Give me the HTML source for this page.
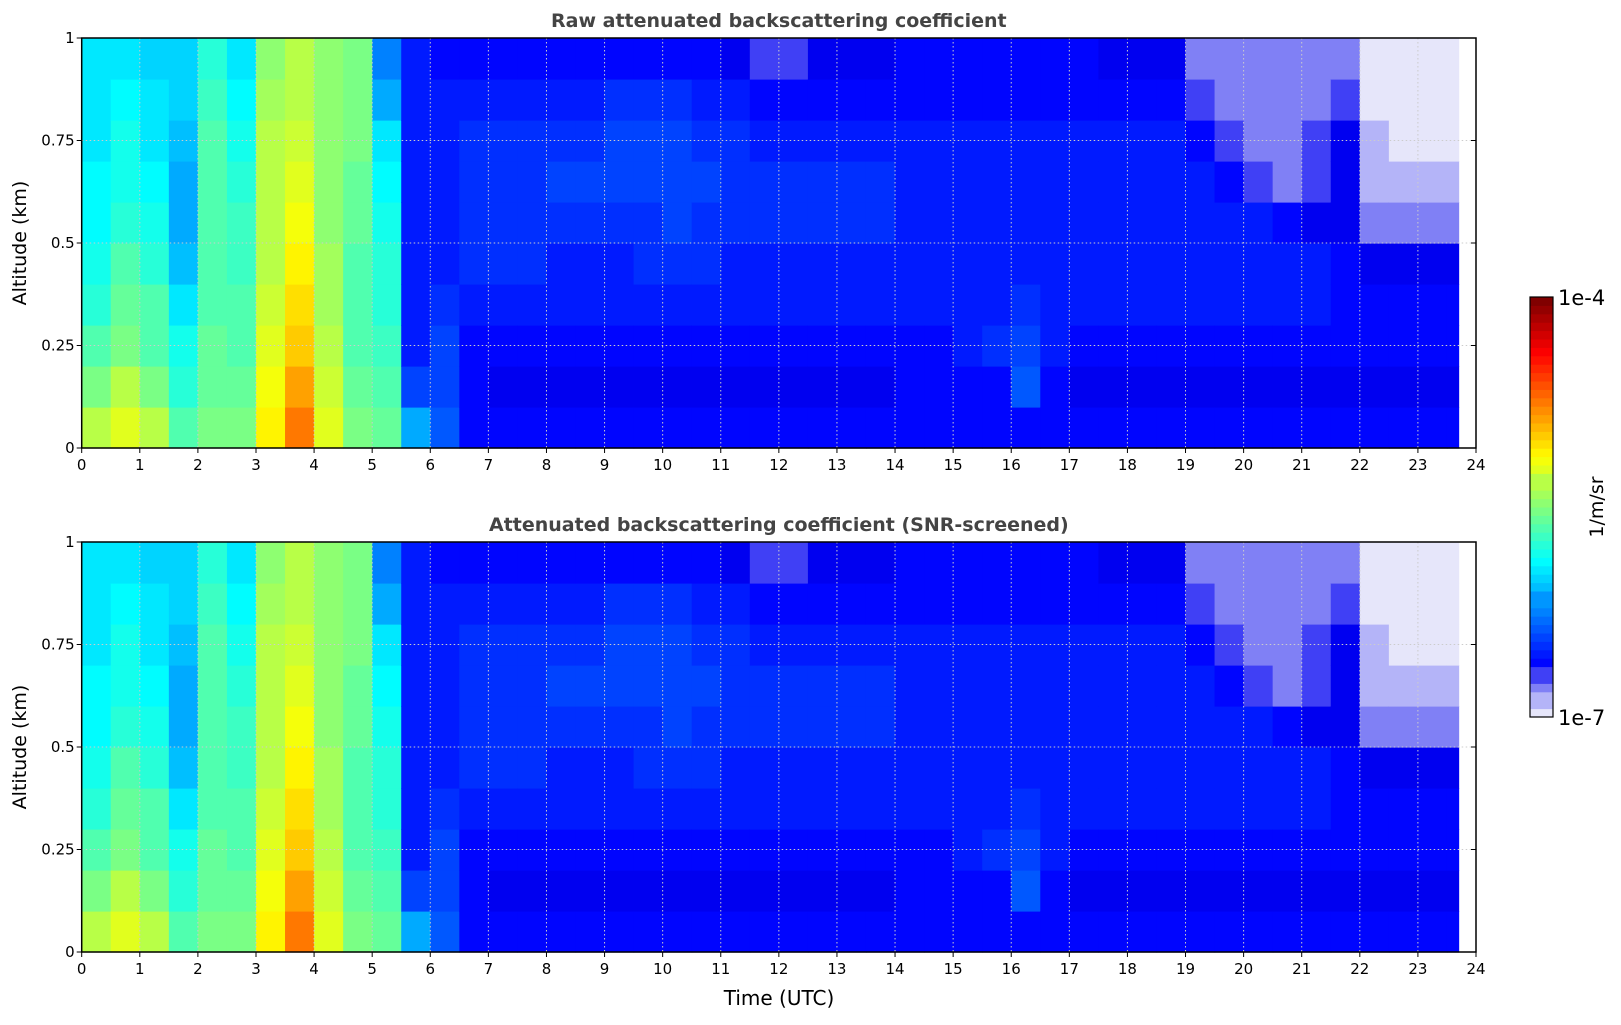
<!DOCTYPE html>
<html><head><meta charset="utf-8"><style>
body{margin:0;background:#fff;}
svg text{font-family:"DejaVu Sans","Liberation Sans",sans-serif;}
</style></head><body>
<svg id="fig" width="1621" height="1020" xmlns="http://www.w3.org/2000/svg">
</svg>
<script>
// Data: time bin edges (hours) and altitude bin edges (km)
const timeStarts = [0,0.5,1,1.5,2,2.5,3,3.5,4,4.5,5,5.5,6,6.5,7,7.5,8,8.5,9,9.5,10,10.5,11,11.5,12,12.5,13,13.5,14,14.5,15,15.5,16,16.5,17,17.5,18,18.5,19,19.5,20,20.5,21,21.5,22,22.5,23,23.5];
const timeEnd = 23.7;
const altStarts = [0,0.1,0.2,0.3,0.4,0.5,0.6,0.7,0.8,0.9];
// normalized log backscatter (0 = 1e-7, 1 = 1e-4), per column bottom->top
const colValues = [
[0.55,0.5,0.45,0.42,0.4,0.38,0.38,0.36,0.36,0.35],
[0.6,0.55,0.5,0.48,0.45,0.42,0.4,0.4,0.38,0.36],
[0.55,0.5,0.45,0.45,0.42,0.4,0.38,0.36,0.35,0.34],
[0.45,0.42,0.4,0.36,0.32,0.3,0.3,0.32,0.33,0.33],
[0.5,0.48,0.47,0.46,0.46,0.46,0.45,0.45,0.44,0.42],
[0.5,0.48,0.46,0.45,0.44,0.43,0.42,0.4,0.38,0.36],
[0.63,0.62,0.6,0.58,0.57,0.56,0.55,0.55,0.54,0.52],
[0.75,0.72,0.68,0.65,0.63,0.62,0.6,0.58,0.57,0.55],
[0.6,0.58,0.55,0.54,0.53,0.52,0.52,0.52,0.52,0.52],
[0.5,0.48,0.46,0.46,0.46,0.47,0.48,0.5,0.5,0.5],
[0.48,0.45,0.44,0.42,0.42,0.4,0.38,0.35,0.3,0.25],
[0.3,0.2,0.16,0.15,0.15,0.15,0.15,0.15,0.15,0.15],
[0.22,0.2,0.2,0.18,0.15,0.15,0.15,0.16,0.15,0.14],
[0.14,0.13,0.14,0.16,0.17,0.18,0.18,0.17,0.16,0.14],
[0.13,0.12,0.14,0.16,0.17,0.18,0.18,0.17,0.15,0.13],
[0.13,0.12,0.13,0.15,0.17,0.18,0.18,0.17,0.15,0.13],
[0.13,0.12,0.13,0.15,0.16,0.18,0.19,0.18,0.16,0.13],
[0.13,0.12,0.13,0.15,0.16,0.18,0.19,0.18,0.16,0.13],
[0.13,0.12,0.13,0.15,0.16,0.18,0.19,0.19,0.17,0.14],
[0.13,0.12,0.14,0.16,0.17,0.18,0.19,0.19,0.17,0.14],
[0.13,0.12,0.14,0.16,0.17,0.19,0.2,0.19,0.17,0.14],
[0.13,0.12,0.14,0.16,0.17,0.18,0.19,0.18,0.16,0.13],
[0.13,0.12,0.14,0.15,0.16,0.18,0.18,0.17,0.15,0.12],
[0.13,0.12,0.14,0.15,0.16,0.17,0.17,0.16,0.14,0.11],
[0.13,0.12,0.13,0.15,0.16,0.17,0.17,0.16,0.14,0.11],
[0.13,0.12,0.13,0.15,0.16,0.17,0.17,0.16,0.14,0.12],
[0.13,0.12,0.13,0.15,0.16,0.17,0.17,0.16,0.14,0.12],
[0.13,0.12,0.13,0.15,0.16,0.17,0.17,0.16,0.14,0.12],
[0.14,0.13,0.14,0.15,0.15,0.16,0.16,0.15,0.14,0.13],
[0.14,0.13,0.14,0.15,0.15,0.16,0.16,0.15,0.14,0.13],
[0.14,0.14,0.15,0.16,0.16,0.16,0.16,0.15,0.14,0.13],
[0.14,0.14,0.17,0.16,0.16,0.16,0.16,0.15,0.14,0.13],
[0.14,0.22,0.2,0.18,0.16,0.16,0.16,0.15,0.14,0.13],
[0.14,0.13,0.15,0.16,0.16,0.16,0.16,0.15,0.14,0.13],
[0.13,0.12,0.14,0.15,0.16,0.16,0.16,0.15,0.14,0.13],
[0.13,0.12,0.14,0.15,0.15,0.16,0.16,0.15,0.13,0.12],
[0.13,0.12,0.14,0.15,0.15,0.16,0.16,0.15,0.13,0.12],
[0.13,0.12,0.14,0.15,0.15,0.16,0.16,0.15,0.13,0.12],
[0.13,0.12,0.14,0.15,0.15,0.16,0.15,0.14,0.1,0.08],
[0.13,0.12,0.14,0.15,0.16,0.16,0.14,0.09,0.07,0.07],
[0.13,0.12,0.14,0.15,0.16,0.15,0.1,0.07,0.07,0.06],
[0.13,0.12,0.14,0.16,0.16,0.13,0.08,0.07,0.07,0.07],
[0.13,0.12,0.14,0.15,0.15,0.12,0.1,0.09,0.08,0.08],
[0.13,0.12,0.13,0.14,0.13,0.12,0.12,0.12,0.11,0.08],
[0.13,0.12,0.13,0.13,0.12,0.06,0.04,0.03,0.02,0.02],
[0.13,0.12,0.13,0.13,0.12,0.07,0.04,0.02,0.02,0.02],
[0.13,0.12,0.13,0.13,0.12,0.06,0.03,0.02,0.02,0.02],
[0.13,0.12,0.13,0.13,0.12,0.06,0.03,0.02,0.02,0.02]
];
const xTickLabels = ["0","1","2","3","4","5","6","7","8","9","10","11","12","13","14","15","16","17","18","19","20","21","22","23","24"];
const yTickValues = [0,0.25,0.5,0.75,1];
const yTickLabels = ["0","0.25","0.5","0.75","1"];

const NS="http://www.w3.org/2000/svg";
const svg=document.getElementById('fig');
function mk(tag,attrs,parent){const e=document.createElementNS(NS,tag);for(const k in attrs)e.setAttribute(k,attrs[k]);(parent||svg).appendChild(e);return e;}
function jet(t){
  const r=Math.min(Math.max(Math.min(4*t-1.5,-4*t+4.5),0),1);
  const g=Math.min(Math.max(Math.min(4*t-0.5,-4*t+3.5),0),1);
  const b=Math.min(Math.max(Math.min(4*t+0.5,-4*t+2.5),0),1);
  return `rgb(${Math.round(r*255)},${Math.round(g*255)},${Math.round(b*255)})`;
}
function cmap(v){
  if(v<0.03) return '#e6e6fa';
  if(v<0.06) return '#b4b4f8';
  if(v<0.09) return '#8080f5';
  if(v<0.12) return '#4040f5';
  const q=Math.round(v*50)/50;
  return jet(0.11+(q-0.12)/0.88*0.89);
}
const L=81.7,R=1476;
function xs(t){return L+(R-L)*t/24;}
const panels=[{top:38,bot:448,title:'Raw attenuated backscattering coefficient',ty:27,name:'raw'},
              {top:542,bot:952,title:'Attenuated backscattering coefficient (SNR-screened)',ty:531,name:'screened'}];
panels.forEach((p,pi)=>{
  const ys=a=>p.bot-(p.bot-p.top)*a;
  const g=mk('g',{});
  
  
  const hm=mk('g',{},g);
  
  
  timeStarts.forEach((ts,i)=>{
    const te=i+1<timeStarts.length?timeStarts[i+1]:timeEnd;
    altStarts.forEach((as,j)=>{
      const ae=j+1<altStarts.length?altStarts[j+1]:1;
      const r=mk('rect',{x:xs(ts),y:ys(ae),width:xs(te)-xs(ts)+0.6,height:ys(as)-ys(ae)+0.6,fill:cmap(colValues[i][j])},hm);
      
      
    });
  });
  for(let h=1;h<24;h++) mk('line',{x1:xs(h),x2:xs(h),y1:p.top,y2:p.bot,stroke:'#ccc','stroke-width':1,'stroke-dasharray':'1.5,2.5'},g);
  yTickValues.forEach(v=>{ if(v>0&&v<1) mk('line',{x1:L,x2:R,y1:ys(v),y2:ys(v),stroke:'#ccc','stroke-width':1,'stroke-dasharray':'1.5,2.5'},g);});
  mk('rect',{x:L,y:p.top,width:R-L,height:p.bot-p.top,fill:'none',stroke:'#000','stroke-width':1.5},g);
  xTickLabels.forEach((lab,i)=>{
    mk('line',{x1:xs(i),x2:xs(i),y1:p.bot,y2:p.bot+5,stroke:'#000','stroke-width':1},g);
    const t=mk('text',{x:xs(i),y:p.bot+22,'font-size':15,'text-anchor':'middle',fill:'#000'},g);
    t.textContent=lab;
    
    
  });
  yTickValues.forEach((v,i)=>{
    mk('line',{x1:L-5,x2:L,y1:ys(v),y2:ys(v),stroke:'#000','stroke-width':1},g);
    mk('line',{x1:R-5,x2:R,y1:ys(v),y2:ys(v),stroke:'#000','stroke-width':1},g);
    const t=mk('text',{x:L-7,y:ys(v)+5,'font-size':15,'text-anchor':'end',fill:'#000'},g);
    t.textContent=yTickLabels[i];
    
    
  });
  const tt=mk('text',{x:(L+R)/2,y:p.ty,'font-size':19,'font-weight':'bold','text-anchor':'middle',fill:'#444'},g);
  tt.textContent=p.title;
  
  
  const yl=mk('text',{x:0,y:0,'font-size':19,'text-anchor':'middle',fill:'#000',transform:`translate(26,${(p.top+p.bot)/2}) rotate(-90)`},g);
  yl.textContent='Altitude (km)';
  
  
});
const xl=mk('text',{x:779,y:1005,'font-size':20,'text-anchor':'middle',fill:'#000'});
xl.textContent='Time (UTC)';


const cb=mk('g',{});


const cbT=297,cbB=717,cbL=1530,cbW=23,N=50;
for(let k=0;k<N;k++){
  const v=(k+0.5)/N;
  mk('rect',{x:cbL,y:cbB-(k+1)*(cbB-cbT)/N,width:cbW,height:(cbB-cbT)/N+0.5,fill:cmap(v)},cb);
}
mk('rect',{x:cbL,y:cbT,width:cbW,height:cbB-cbT,fill:'none',stroke:'#000','stroke-width':1.2},cb);
const c1=mk('text',{x:1558,y:305,'font-size':21,fill:'#000'},cb);c1.textContent='1e-4';
const c2=mk('text',{x:1558,y:725,'font-size':21,fill:'#000'},cb);c2.textContent='1e-7';
const cl=mk('text',{x:0,y:0,'font-size':19,'text-anchor':'middle',fill:'#000',transform:'translate(1603,507) rotate(-90)'},cb);
cl.textContent='1/m/sr';


</script>
</body></html>
